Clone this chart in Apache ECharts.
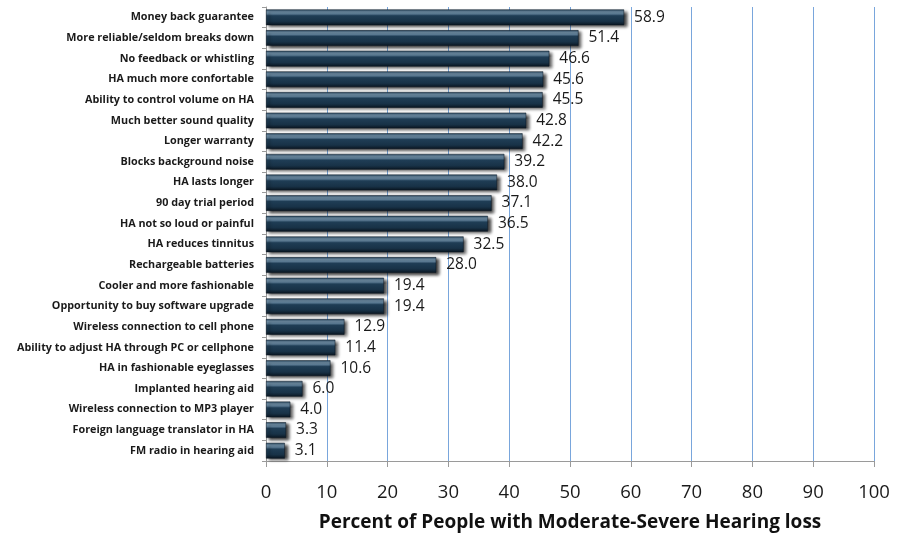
<!DOCTYPE html>
<html>
<head>
<meta charset="utf-8">
<script src="https://cdn.jsdelivr.net/npm/echarts@6/dist/echarts.min.js"></script>
<style>
  html, body { margin: 0; padding: 0; background: #ffffff; }
  #chart { width: 907px; height: 536px; }
</style>
</head>
<body>
<div id="chart"></div>
<script>
// Reasons that would motivate hearing-aid purchase, ranked by share of respondents
const categories = [
  'Money back guarantee',
  'More reliable/seldom breaks down',
  'No feedback or whistling',
  'HA much more confortable',
  'Ability to control volume on HA',
  'Much better sound quality',
  'Longer warranty',
  'Blocks background noise',
  'HA lasts longer',
  '90 day trial period',
  'HA not so loud or painful',
  'HA reduces tinnitus',
  'Rechargeable batteries',
  'Cooler and more fashionable',
  'Opportunity to buy software upgrade',
  'Wireless connection to cell phone',
  'Ability to adjust HA through PC or cellphone',
  'HA in fashionable eyeglasses',
  'Implanted hearing aid',
  'Wireless connection to MP3 player',
  'Foreign language translator in HA',
  'FM radio in hearing aid'
];
const percentValues = [
  58.9, 51.4, 46.6, 45.6, 45.5, 42.8, 42.2, 39.2, 38.0, 37.1, 36.5,
  32.5, 28.0, 19.4, 19.4, 12.9, 11.4, 10.6, 6.0, 4.0, 3.3, 3.1
];
const axisTitle = 'Percent of People with Moderate-Severe Hearing loss';

const chart = echarts.init(document.getElementById('chart'));

// Glossy navy fill with a light stripe near the top edge
const barFill = new echarts.graphic.LinearGradient(0, 0, 0, 1, [
  { offset: 0.00, color: '#2b4a63' },
  { offset: 0.15, color: '#6f8ea6' },
  { offset: 0.28, color: '#5d7d96' },
  { offset: 0.40, color: '#1f3d55' },
  { offset: 0.75, color: '#183247' },
  { offset: 1.00, color: '#0b1722' }
]);

chart.setOption({
  animation: false,
  backgroundColor: '#ffffff',
  grid: {
    left: 266, right: 33, top: 7, bottom: 75,
    containLabel: false,
    outerBoundsMode: 'none'
  },
  xAxis: {
    type: 'value',
    min: 0,
    max: 100,
    interval: 10,
    name: axisTitle,
    nameLocation: 'middle',
    nameGap: 52,
    nameMoveOverlap: false,
    nameTextStyle: {
      fontFamily: 'Open Sans',
      fontWeight: 'bold',
      fontSize: 19,
      color: '#111111'
    },
    axisLine: { show: true, lineStyle: { color: '#9a9a9a', width: 1 } },
    axisTick: { show: true, length: 6, lineStyle: { color: '#9a9a9a' } },
    axisLabel: {
      fontFamily: 'Open Sans',
      fontSize: 18.5,
      color: '#1a1a1a',
      margin: 22
    },
    splitLine: {
      show: true,
      lineStyle: { color: '#79a6dc', width: 1 }
    }
  },
  yAxis: {
    type: 'category',
    data: categories,
    inverse: true,
    axisLine: { show: true, lineStyle: { color: '#9a9a9a', width: 1 } },
    axisTick: { show: true, length: 4, lineStyle: { color: '#9a9a9a' } },
    axisLabel: {
      fontFamily: 'Open Sans',
      fontWeight: 'bold',
      fontSize: 10.8,
      color: '#1a1a1a',
      margin: 12
    },
    splitLine: { show: false }
  },
  series: [{
    type: 'bar',
    data: percentValues,
    barCategoryGap: '24%',
    itemStyle: {
      color: barFill,
      borderColor: '#0b1722',
      borderWidth: 0.5,
      shadowColor: 'rgba(0,0,0,0.75)',
      shadowBlur: 3,
      shadowOffsetX: 3,
      shadowOffsetY: 2
    },
    label: {
      show: true,
      position: 'right',
      distance: 10,
      fontFamily: 'Open Sans',
      fontSize: 15.5,
      color: '#1a1a1a',
      formatter: p => p.value.toFixed(1)
    }
  }]
});
</script>
</body>
</html>
